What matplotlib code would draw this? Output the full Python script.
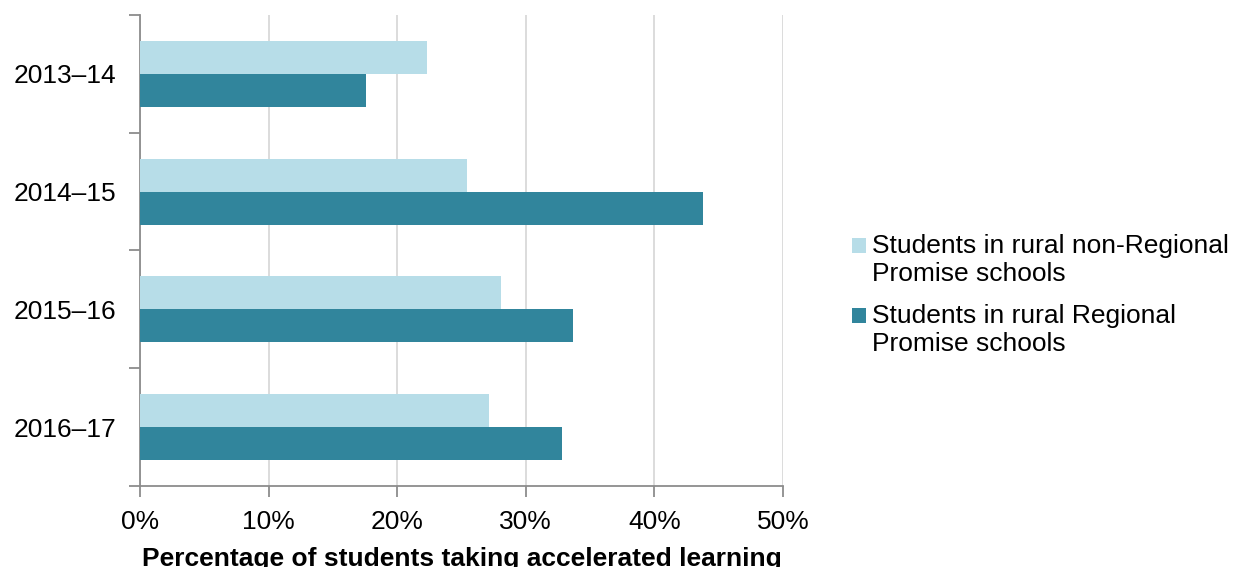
import numpy as np
import matplotlib.pyplot as plt
from matplotlib.container import BarContainer
from matplotlib.patches import Rectangle
from matplotlib.legend_handler import HandlerPatch, update_from_first_child
from matplotlib.ticker import PercentFormatter

plt.rcParams["font.family"] = ["Liberation Sans", "DejaVu Sans"]

years = ["2013–14", "2014–15", "2015–16", "2016–17"]
non_regional = [22.3, 25.4, 28.1, 27.1]
regional = [17.6, 43.8, 33.7, 32.8]
series_names = [
    "Students in rural non-Regional\nPromise schools",
    "Students in rural Regional\nPromise schools",
]
light = "#B7DDE8"
dark = "#31859C"
spine_color = "#8C8C8C"
fs = 19


# legend swatch lined up with the first line of a two-line label
def top_swatch(legend, orig_handle, xdescent, ydescent, width, height, fontsize):
    return Rectangle((-xdescent, -ydescent + 0.55 * fontsize), width, height)


fig = plt.figure(figsize=(12.34, 5.67), dpi=100)
ax = fig.add_axes([0.1135, 0.143, 0.521, 0.8305])

pos = np.arange(len(years))
h = 0.28
ax.barh(pos - h / 2, non_regional, height=h, color=light, label=series_names[0], zorder=3)
ax.barh(pos + h / 2, regional, height=h, color=dark, label=series_names[1], zorder=3)

ax.set_xlim(0, 50)
ax.set_ylim(len(years) - 0.5, -0.5)
ax.xaxis.set_major_formatter(PercentFormatter(decimals=0))
ax.set_xticks(np.arange(0, 51, 10))
ax.grid(axis="x", color="#D9D9D9", linewidth=1.3, zorder=0)

# category boundaries get the tick marks, labels sit between them
ax.set_yticks(np.arange(-0.5, len(years), 1))
ax.set_yticklabels([])
ax.set_yticks(pos, minor=True)
ax.set_yticklabels(years, minor=True)
ax.tick_params(axis="y", which="major", length=8, width=1.3, color=spine_color)
ax.tick_params(axis="y", which="minor", length=0, pad=17, labelsize=fs)
ax.tick_params(axis="x", length=8, width=1.3, color=spine_color, labelsize=fs, pad=9)

for side in ["top", "right"]:
    ax.spines[side].set_visible(False)
for side in ["left", "bottom"]:
    ax.spines[side].set_color(spine_color)
    ax.spines[side].set_linewidth(1.3)

ax.set_xlabel("Percentage of students taking accelerated learning",
              fontsize=fs, fontweight="bold", labelpad=10)

ax.legend(loc="center left", bbox_to_anchor=(839 / 1234, 0.48),
          bbox_transform=fig.transFigure, frameon=False, borderpad=0,
          fontsize=fs, handlelength=0.53, handleheight=0.53, handletextpad=0.23,
          labelspacing=0.7,
          handler_map={BarContainer: HandlerPatch(patch_func=top_swatch,
                                                  update_func=update_from_first_child)})

fig.savefig("out.png", dpi=100)
